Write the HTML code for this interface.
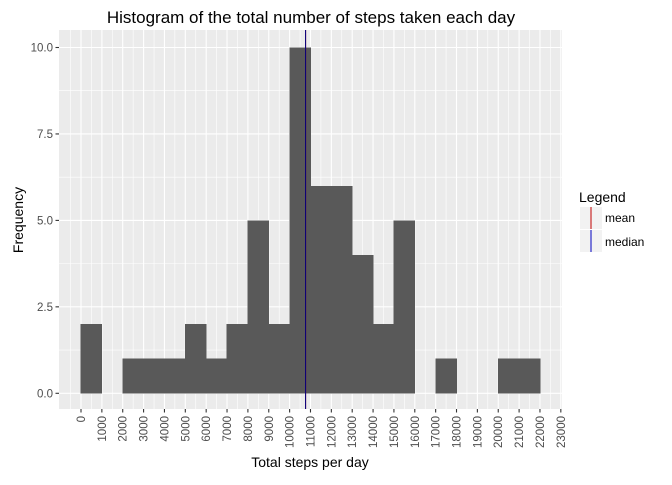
<!DOCTYPE html>
<html><head><meta charset="utf-8"><style>
body{margin:0;background:#fff;font-family:"Liberation Sans",Arial,sans-serif}
</style></head><body>
<svg id="c" width="672" height="480" xmlns="http://www.w3.org/2000/svg">
<rect x="0" y="0" width="672" height="480" fill="#fff"/>
<text x="311" y="23" font-size="17" text-anchor="middle" fill="#000">Histogram of the total number of steps taken each day</text>
<rect id="panel" x="59" y="30" width="503" height="379" fill="#ebebeb"/>
<g id="grid"></g><g id="bars" shape-rendering="crispEdges"></g><g id="lines"></g><g id="axes"></g>
<text x="310" y="467" font-size="14" text-anchor="middle" fill="#000">Total steps per day</text>
<text transform="translate(23,220) rotate(-90)" font-size="14" text-anchor="middle" fill="#000">Frequency</text>
<g>
<text x="579" y="202" font-size="14" fill="#000">Legend</text>
<rect x="580" y="207" width="22" height="22" fill="#f2f2f2"/>
<line x1="591" y1="207" x2="591" y2="229" stroke="#c00000" stroke-width="1"/>
<text x="605" y="222" font-size="12" fill="#000">mean</text>
<rect x="580" y="230" width="22" height="22" fill="#f2f2f2"/>
<line x1="591" y1="230" x2="591" y2="252" stroke="#0000c0" stroke-width="1"/>
<text x="605" y="246" font-size="12" fill="#000">median</text>
</g>
</svg>
<script>
const binStarts=[0,1000,2000,3000,4000,5000,6000,7000,8000,9000,10000,11000,12000,13000,14000,15000,16000,17000,18000,19000,20000,21000];
const counts=[2,0,1,1,1,2,1,2,5,2,10,6,6,4,2,5,0,1,0,0,1,1];
const binWidth=1000;
const xTicks=[0,1000,2000,3000,4000,5000,6000,7000,8000,9000,10000,11000,12000,13000,14000,15000,16000,17000,18000,19000,20000,21000,22000,23000];
const yTicks=[0,2.5,5,7.5,10];
const yTickLabels=["0.0","2.5","5.0","7.5","10.0"];
const meanSteps=10766;
const medianSteps=10765;
const NS="http://www.w3.org/2000/svg";
function X(v){return 81+v*0.020862;}
function Y(v){return 393.3-v*34.58;}
function mk(tag,attrs,parent){const e=document.createElementNS(NS,tag);for(const k in attrs)e.setAttribute(k,attrs[k]);parent.appendChild(e);return e;}
const grid=document.getElementById('grid'),bars=document.getElementById('bars'),lines=document.getElementById('lines'),axes=document.getElementById('axes');
for(let i=0;i<xTicks.length-1;i++){const v=(xTicks[i]+xTicks[i+1])/2;const l=mk('line',{x1:X(v),x2:X(v),y1:30,y2:409,stroke:'#fff','stroke-width':0.6},grid);

}
{const v=xTicks[0]-500;const l=mk('line',{x1:X(v),x2:X(v),y1:30,y2:409,stroke:'#fff','stroke-width':0.6},grid);

}
for(let i=0;i<yTicks.length-1;i++){const v=(yTicks[i]+yTicks[i+1])/2;const l=mk('line',{x1:59,x2:562,y1:Y(v),y2:Y(v),stroke:'#fff','stroke-width':0.6},grid);

}
xTicks.forEach(v=>{const l=mk('line',{x1:X(v),x2:X(v),y1:30,y2:409,stroke:'#fff','stroke-width':1.1},grid);


const t=mk('line',{x1:X(v),x2:X(v),y1:409,y2:412.5,stroke:'#333','stroke-width':1.1},axes);


const tx=mk('text',{transform:`translate(${X(v)+4},416) rotate(-90)`,'font-size':'11.5','text-anchor':'end',fill:'#4d4d4d'},axes);tx.textContent=String(v);

});
yTicks.forEach((v,i)=>{const l=mk('line',{x1:59,x2:562,y1:Y(v),y2:Y(v),stroke:'#fff','stroke-width':1.1},grid);


const t=mk('line',{x1:55.5,x2:59,y1:Y(v),y2:Y(v),stroke:'#333','stroke-width':1.1},axes);


const tx=mk('text',{x:53,y:Y(v)+4,'font-size':'11.5','text-anchor':'end',fill:'#4d4d4d'},axes);tx.textContent=yTickLabels[i];

});
binStarts.forEach((b,i)=>{if(!counts[i])return;const r=mk('rect',{x:X(b)-0.3,y:Y(counts[i]),width:X(b+binWidth)-X(b)+0.6,height:Y(0)-Y(counts[i]),fill:'#595959'},bars);

});
const m=mk('line',{x1:X(meanSteps),x2:X(meanSteps),y1:30,y2:409,stroke:'#c00000','stroke-width':1},lines);


const md=mk('line',{x1:X(medianSteps),x2:X(medianSteps),y1:30,y2:409,stroke:'#000080','stroke-width':1},lines);


</script>
</body></html>
